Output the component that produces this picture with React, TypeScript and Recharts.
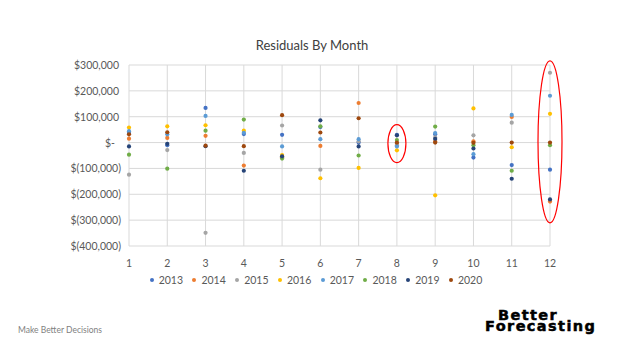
import {
  ScatterChart,
  Scatter,
  XAxis,
  YAxis,
  CartesianGrid,
  Legend,
  ReferenceDot,
} from "recharts";

// months on the x axis
const months = [1, 2, 3, 4, 5, 6, 7, 8, 9, 10, 11, 12];
const yTicks = [-400000, -300000, -200000, -100000, 0, 100000, 200000, 300000];

// residuals per year
const y2013 = [37000, -10000, 134000, 33000, 30000, 60000, 0, 30000, 32000, -58000, -87000, -105000];
const y2014 = [15000, 18000, 26000, -89000, -57000, -13000, 153000, -5000, 5000, 5000, 99000, -228000];
const y2015 = [-124000, -29000, -349000, -40000, 66000, -105000, 5000, -10000, 20000, 28000, 77000, 270000];
const y2016 = [58000, 63000, 67000, 46000, -48000, -138000, -98000, -30000, -204000, 132000, -18000, 111000];
const y2017 = [44000, 32000, 103000, 38000, -15000, 13000, 13000, -15000, 37000, -45000, 107000, 181000];
const y2018 = [-47000, -101000, 46000, 89000, -62000, 63000, -50000, 10000, 62000, -10000, -109000, -10000];
const y2019 = [-15000, -5000, -14000, -109000, -53000, 86000, -15000, 28000, 14000, -23000, -140000, -220000];
const y2020 = [32000, 40000, -12000, -14000, 106000, 39000, 94000, 0, 0, -1000, 0, 0];

const series = [
  { name: "2013", values: y2013, color: "#4472C4" },
  { name: "2014", values: y2014, color: "#ED7D31" },
  { name: "2015", values: y2015, color: "#A5A5A5" },
  { name: "2016", values: y2016, color: "#FFC000" },
  { name: "2017", values: y2017, color: "#5B9BD5" },
  { name: "2018", values: y2018, color: "#70AD47" },
  { name: "2019", values: y2019, color: "#264478" },
  { name: "2020", values: y2020, color: "#9E480E" },
];

const font = "Lato, 'Open Sans', sans-serif";

const money = (v: number) => {
  if (v === 0) return "$-";
  const s = Math.abs(v).toLocaleString("en-US");
  return v < 0 ? `$(${s})` : `$${s}`;
};

const YTick = (props: any) => {
  const { x, y, payload } = props;
  const v = payload.value;
  // accounting format pads the dash and positive numbers a little
  const shift = v === 0 ? -6 : v > 0 ? -2 : 0;
  return (
    <text x={x + shift} y={y} dy={4} textAnchor="end" fill="#595959" fontSize={10.5} fontFamily={font}>
      {money(v)}
    </text>
  );
};

const LegendContent = (props: any) => {
  const { payload } = props;
  return (
    <div style={{ display: "flex", justifyContent: "center", fontFamily: font, fontSize: 10.5, color: "#595959" }}>
      {payload.map((p: any) => (
        <div key={p.value} style={{ display: "flex", alignItems: "center", margin: "0 4.7px" }}>
          <span style={{ width: 4, height: 4, borderRadius: 2, background: p.color, marginRight: 5, display: "inline-block" }} />
          <span>{p.value}</span>
        </div>
      ))}
    </div>
  );
};

const ring = (rx: number, ry: number) => (props: any) =>
  <ellipse cx={props.cx} cy={props.cy} rx={rx} ry={ry} fill="none" stroke="#FF0000" strokeWidth={1.2} />;

const dot = (color: string) => (props: any) =>
  <circle cx={props.cx} cy={props.cy} r={2.1} fill={color} />;

export default function App() {
  return (
    <div style={{ position: "absolute", left: 0, top: 0, width: 624, height: 352, background: "#fff" }}>
      <div style={{ position: "absolute", left: 0, width: 624, top: 37, textAlign: "center", fontFamily: font, fontSize: 13, color: "#404040" }}>
        Residuals By Month
      </div>
      <ScatterChart width={624} height={352} margin={{ top: 65, right: 74, bottom: 86, left: 49 }}>
        <CartesianGrid stroke="#D9D9D9" horizontalValues={yTicks} verticalValues={months} />
        <XAxis
          type="number"
          dataKey="month"
          domain={[1, 12]}
          ticks={months}
          axisLine={false}
          tickLine={false}
          tickMargin={8}
          height={20}
          tick={{ fill: "#595959", fontSize: 10.5, fontFamily: font }}
        />
        <YAxis
          type="number"
          dataKey="value"
          domain={[-400000, 300000]}
          ticks={yTicks}
          axisLine={false}
          tickLine={false}
          width={80}
          tick={<YTick />}
        />
        {series.map((s) => (
          <Scatter
            key={s.name}
            name={s.name}
            data={months.map((m, i) => ({ month: m, value: s.values[i] }))}
            fill={s.color}
            shape={dot(s.color)}
            isAnimationActive={false}
          />
        ))}
        <ReferenceDot x={8} y={-4000} shape={ring(9, 19)} />
        <ReferenceDot x={12} y={3000} shape={ring(12, 81)} />
        <Legend
          layout="horizontal"
          verticalAlign="middle"
          align="center"
          content={<LegendContent />}
          wrapperStyle={{ top: 274, left: 4, width: 624 }}
        />
      </ScatterChart>
      <div style={{ position: "absolute", left: 18, top: 325, fontFamily: font, fontSize: 8.5, color: "#7F7F7F" }}>
        Make Better Decisions
      </div>
      <div
        style={{
          position: "absolute",
          left: 485,
          top: 310,
          fontFamily: "'DejaVu Sans', sans-serif",
          fontWeight: "bold",
          fontSize: 14.5,
          letterSpacing: 1.4,
          lineHeight: "10.5px",
          WebkitTextStroke: "0.5px #000",
          color: "#000",
        }}
      >
        <div style={{ paddingLeft: 13 }}>Better</div>
        <div>Forecasting</div>
      </div>
    </div>
  );
}
